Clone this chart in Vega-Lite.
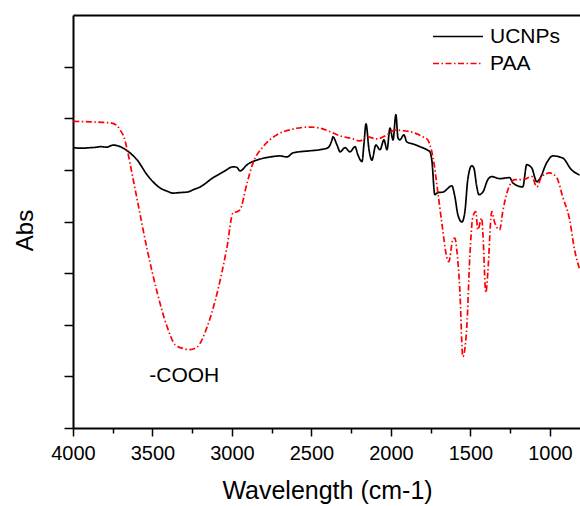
{
  "$schema": "https://vega.github.io/schema/vega-lite/v6.json",
  "width": 507,
  "height": 413,
  "autosize": {"type": "none"},
  "padding": {"left": 73, "top": 15, "right": 0, "bottom": 78},
  "background": "white",
  "config": {
    "view": {"stroke": null},
    "font": "Liberation Sans",
    "axis": {"labelFont": "Liberation Sans", "titleFont": "Liberation Sans", "titleFontWeight": "normal", "labelColor": "black", "titleColor": "black", "domainColor": "black", "tickColor": "black", "grid": false}
  },
  "datasets": {
    "spectra": [
      {"s":"UCNPs","w":3998,"a":5.43},{"s":"UCNPs","w":3950,"a":5.42},{"s":"UCNPs","w":3891,"a":5.43},{"s":"UCNPs","w":3850,"a":5.44},{"s":"UCNPs","w":3828,"a":5.45},{"s":"UCNPs","w":3790,"a":5.44},{"s":"UCNPs","w":3747,"a":5.48},{"s":"UCNPs","w":3703,"a":5.45},{"s":"UCNPs","w":3659,"a":5.37},{"s":"UCNPs","w":3596,"a":5.19},{"s":"UCNPs","w":3533,"a":4.90},{"s":"UCNPs","w":3452,"a":4.65},{"s":"UCNPs","w":3410,"a":4.59},{"s":"UCNPs","w":3370,"a":4.55},{"s":"UCNPs","w":3330,"a":4.56},{"s":"UCNPs","w":3282,"a":4.57},{"s":"UCNPs","w":3240,"a":4.62},{"s":"UCNPs","w":3200,"a":4.67},{"s":"UCNPs","w":3118,"a":4.85},{"s":"UCNPs","w":3050,"a":4.97},{"s":"UCNPs","w":2993,"a":5.06},{"s":"UCNPs","w":2970,"a":5.05},{"s":"UCNPs","w":2949,"a":4.98},{"s":"UCNPs","w":2905,"a":5.10},{"s":"UCNPs","w":2823,"a":5.21},{"s":"UCNPs","w":2760,"a":5.25},{"s":"UCNPs","w":2698,"a":5.27},{"s":"UCNPs","w":2654,"a":5.25},{"s":"UCNPs","w":2616,"a":5.33},{"s":"UCNPs","w":2509,"a":5.37},{"s":"UCNPs","w":2447,"a":5.39},{"s":"UCNPs","w":2396,"a":5.43},{"s":"UCNPs","w":2371,"a":5.58},{"s":"UCNPs","w":2365,"a":5.64},{"s":"UCNPs","w":2339,"a":5.48},{"s":"UCNPs","w":2320,"a":5.35},{"s":"UCNPs","w":2289,"a":5.43},{"s":"UCNPs","w":2258,"a":5.35},{"s":"UCNPs","w":2226,"a":5.45},{"s":"UCNPs","w":2208,"a":5.29},{"s":"UCNPs","w":2182,"a":5.16},{"s":"UCNPs","w":2170,"a":5.50},{"s":"UCNPs","w":2157,"a":5.89},{"s":"UCNPs","w":2138,"a":5.39},{"s":"UCNPs","w":2120,"a":5.19},{"s":"UCNPs","w":2095,"a":5.48},{"s":"UCNPs","w":2069,"a":5.39},{"s":"UCNPs","w":2044,"a":5.58},{"s":"UCNPs","w":2025,"a":5.39},{"s":"UCNPs","w":2006,"a":5.81},{"s":"UCNPs","w":1987,"a":5.58},{"s":"UCNPs","w":1969,"a":6.07},{"s":"UCNPs","w":1956,"a":5.62},{"s":"UCNPs","w":1944,"a":5.58},{"s":"UCNPs","w":1919,"a":5.68},{"s":"UCNPs","w":1900,"a":5.54},{"s":"UCNPs","w":1860,"a":5.50},{"s":"UCNPs","w":1818,"a":5.45},{"s":"UCNPs","w":1774,"a":5.39},{"s":"UCNPs","w":1755,"a":5.35},{"s":"UCNPs","w":1743,"a":5.19},{"s":"UCNPs","w":1724,"a":4.52},{"s":"UCNPs","w":1705,"a":4.56},{"s":"UCNPs","w":1673,"a":4.57},{"s":"UCNPs","w":1617,"a":4.69},{"s":"UCNPs","w":1598,"a":4.48},{"s":"UCNPs","w":1579,"a":4.13},{"s":"UCNPs","w":1554,"a":3.99},{"s":"UCNPs","w":1535,"a":4.19},{"s":"UCNPs","w":1517,"a":4.81},{"s":"UCNPs","w":1492,"a":5.08},{"s":"UCNPs","w":1479,"a":5.04},{"s":"UCNPs","w":1460,"a":4.67},{"s":"UCNPs","w":1447,"a":4.52},{"s":"UCNPs","w":1422,"a":4.57},{"s":"UCNPs","w":1391,"a":4.81},{"s":"UCNPs","w":1366,"a":4.87},{"s":"UCNPs","w":1316,"a":4.83},{"s":"UCNPs","w":1253,"a":4.85},{"s":"UCNPs","w":1234,"a":4.75},{"s":"UCNPs","w":1171,"a":4.67},{"s":"UCNPs","w":1146,"a":5.10},{"s":"UCNPs","w":1115,"a":5.04},{"s":"UCNPs","w":1083,"a":4.77},{"s":"UCNPs","w":1064,"a":4.83},{"s":"UCNPs","w":1020,"a":5.14},{"s":"UCNPs","w":983,"a":5.27},{"s":"UCNPs","w":920,"a":5.23},{"s":"UCNPs","w":864,"a":5.00},{"s":"UCNPs","w":813,"a":4.90},
      {"s":"PAA","w":3998,"a":5.94},{"s":"PAA","w":3891,"a":5.93},{"s":"PAA","w":3766,"a":5.91},{"s":"PAA","w":3728,"a":5.87},{"s":"PAA","w":3703,"a":5.77},{"s":"PAA","w":3678,"a":5.62},{"s":"PAA","w":3659,"a":5.39},{"s":"PAA","w":3627,"a":4.90},{"s":"PAA","w":3596,"a":4.42},{"s":"PAA","w":3533,"a":3.45},{"s":"PAA","w":3470,"a":2.62},{"s":"PAA","w":3408,"a":1.96},{"s":"PAA","w":3357,"a":1.61},{"s":"PAA","w":3307,"a":1.54},{"s":"PAA","w":3263,"a":1.52},{"s":"PAA","w":3219,"a":1.57},{"s":"PAA","w":3156,"a":1.96},{"s":"PAA","w":3093,"a":2.62},{"s":"PAA","w":3031,"a":3.51},{"s":"PAA","w":2993,"a":4.17},{"s":"PAA","w":2968,"a":4.19},{"s":"PAA","w":2949,"a":4.23},{"s":"PAA","w":2905,"a":4.75},{"s":"PAA","w":2867,"a":5.14},{"s":"PAA","w":2804,"a":5.45},{"s":"PAA","w":2717,"a":5.68},{"s":"PAA","w":2616,"a":5.79},{"s":"PAA","w":2509,"a":5.83},{"s":"PAA","w":2447,"a":5.81},{"s":"PAA","w":2383,"a":5.74},{"s":"PAA","w":2321,"a":5.66},{"s":"PAA","w":2239,"a":5.60},{"s":"PAA","w":2195,"a":5.56},{"s":"PAA","w":2151,"a":5.64},{"s":"PAA","w":2088,"a":5.60},{"s":"PAA","w":2025,"a":5.68},{"s":"PAA","w":1975,"a":5.77},{"s":"PAA","w":1881,"a":5.74},{"s":"PAA","w":1799,"a":5.64},{"s":"PAA","w":1768,"a":5.58},{"s":"PAA","w":1755,"a":5.48},{"s":"PAA","w":1736,"a":5.25},{"s":"PAA","w":1705,"a":4.56},{"s":"PAA","w":1680,"a":3.97},{"s":"PAA","w":1648,"a":3.30},{"s":"PAA","w":1636,"a":3.22},{"s":"PAA","w":1611,"a":3.65},{"s":"PAA","w":1598,"a":3.68},{"s":"PAA","w":1586,"a":3.45},{"s":"PAA","w":1567,"a":2.68},{"s":"PAA","w":1548,"a":1.38},{"s":"PAA","w":1523,"a":1.96},{"s":"PAA","w":1504,"a":3.32},{"s":"PAA","w":1485,"a":4.09},{"s":"PAA","w":1466,"a":4.19},{"s":"PAA","w":1454,"a":3.84},{"s":"PAA","w":1429,"a":4.07},{"s":"PAA","w":1422,"a":3.78},{"s":"PAA","w":1403,"a":2.62},{"s":"PAA","w":1391,"a":3.01},{"s":"PAA","w":1366,"a":4.19},{"s":"PAA","w":1347,"a":3.97},{"s":"PAA","w":1316,"a":3.84},{"s":"PAA","w":1297,"a":4.19},{"s":"PAA","w":1265,"a":4.61},{"s":"PAA","w":1221,"a":4.81},{"s":"PAA","w":1171,"a":4.81},{"s":"PAA","w":1114,"a":4.87},{"s":"PAA","w":1083,"a":4.67},{"s":"PAA","w":1052,"a":4.87},{"s":"PAA","w":1001,"a":4.94},{"s":"PAA","w":957,"a":4.85},{"s":"PAA","w":920,"a":4.48},{"s":"PAA","w":876,"a":4.03},{"s":"PAA","w":845,"a":3.45},{"s":"PAA","w":813,"a":3.07}
    ],
    "notes": [{"w": 3300, "a": 0.885, "label": "-COOH"}]
  },
  "resolve": {"axis": {"x": "independent"}},
  "layer": [
    {
      "data": {"name": "spectra"},
      "mark": {"type": "line", "strokeWidth": 1.7, "clip": true, "interpolate": "monotone"},
      "encoding": {
        "x": {"field": "w", "type": "quantitative", "scale": {"domain": [4000, 811], "nice": false, "zero": false},
          "axis": {"orient": "bottom", "title": "Wavelength (cm-1)", "values": [4000,3750,3500,3250,3000,2750,2500,2250,2000,1750,1500,1250,1000],
            "labelExpr": "datum.value % 500 === 0 ? datum.value : ''", "labelFontSize": 20, "labelPadding": 7, "labelFlush": false, "labelOverlap": false,
            "tickSize": {"condition": {"test": "datum.value % 500 === 0", "value": 8}, "value": 5}, "tickWidth": 1.5, "domainWidth": 2,
            "titleFontSize": 25, "titleX": 254, "titleY": 70, "titleBaseline": "alphabetic", "titleAlign": "center"}},
        "y": {"field": "a", "type": "quantitative", "scale": {"domain": [0, 8], "nice": false, "zero": false},
          "axis": {"title": "Abs", "values": [0,1,2,3,4,5,6,7], "labels": false, "tickSize": 9, "tickWidth": 1.5, "domainWidth": 2,
            "titleFontSize": 24, "titleAngle": 270, "titleX": -41, "titleY": 215, "titleBaseline": "alphabetic", "titleAlign": "center"}},
        "color": {"field": "s", "type": "nominal", "scale": {"domain": ["UCNPs", "PAA"], "range": ["black", "#ff0000"]},
          "legend": {"title": null, "orient": "none", "legendX": 359, "legendY": 8, "symbolType": "stroke", "symbolSize": 2500, "symbolStrokeWidth": 1.6,
            "labelFontSize": 21, "labelFont": "Liberation Sans", "labelColor": "black", "clipHeight": 27, "rowPadding": 0, "labelOffset": 6, "padding": 0}},
        "strokeDash": {"field": "s", "type": "nominal", "scale": {"domain": ["UCNPs", "PAA"], "range": [[1, 0], [6, 2.5, 1.5, 2.5]]},
          "legend": {"title": null, "orient": "none", "legendX": 359, "legendY": 8, "symbolType": "stroke", "symbolSize": 2500, "symbolStrokeWidth": 1.6,
            "labelFontSize": 21, "labelFont": "Liberation Sans", "labelColor": "black", "clipHeight": 27, "rowPadding": 0, "labelOffset": 6, "padding": 0}}
      }
    },
    {
      "data": {"name": "notes"},
      "mark": {"type": "text", "fontSize": 21, "font": "Liberation Sans", "color": "black", "align": "center", "baseline": "alphabetic"},
      "encoding": {
        "x": {"field": "w", "type": "quantitative", "axis": {"orient": "top", "labels": false, "ticks": false, "title": null, "domainWidth": 2}},
        "y": {"field": "a", "type": "quantitative"},
        "text": {"field": "label"}
      }
    }
  ]
}
